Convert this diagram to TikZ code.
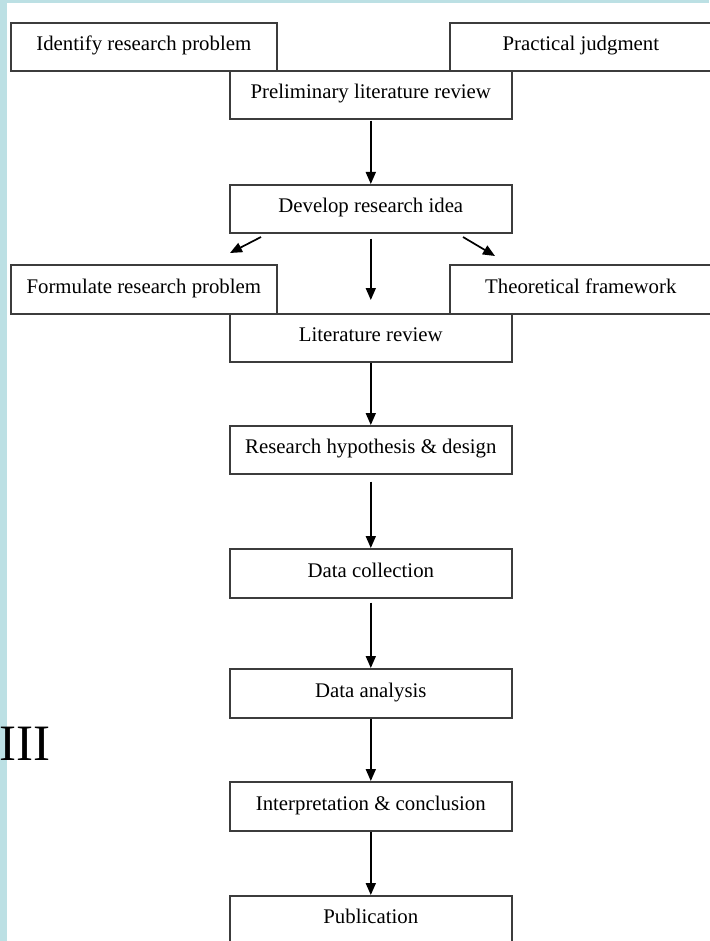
\documentclass[tikz,border=0pt]{standalone}
\usepackage{fontspec}
\setmainfont{Liberation Serif}
\usetikzlibrary{arrows.meta}
\definecolor{strip}{HTML}{BCE0E4}
\definecolor{boxline}{HTML}{3C3C3C}
\begin{document}
\begin{tikzpicture}[x=1pt,y=-1pt,
  stepbox/.style={draw=boxline, line width=1.6pt, inner sep=0pt,
    minimum height=48pt, text height=28pt, text depth=20pt,
    font=\fontsize{20.8}{24}\selectfont, anchor=north west, fill=white},
  arr/.style={-{Triangle[length=12pt,width=10pt]}, line width=1.7pt, black}]
\useasboundingbox (0,0) rectangle (709,941);
\fill[white] (0,0) rectangle (709,941);
\fill[strip] (0,0) rectangle (709,3);
\fill[strip] (0,0) rectangle (7,941);

\node[stepbox, minimum width=266pt] (identify) at (10,22) {Identify research problem};
\node[stepbox, minimum width=262pt] (practical) at (449,22) {Practical judgment};
\node[stepbox, minimum width=282pt] (prelim) at (229,70) {Preliminary literature review};
\node[stepbox, minimum width=282pt] (develop) at (229,184) {Develop research idea};
\node[stepbox, minimum width=266pt, minimum height=49pt] (formulate) at (10,264) {Formulate research problem};
\node[stepbox, minimum width=262pt, minimum height=49pt] (theory) at (449,264) {Theoretical framework};
\node[stepbox, minimum width=282pt] (litrev) at (229,313) {Literature review};
\node[stepbox, minimum width=282pt] (hyp) at (229,425) {Research hypothesis \& design};
\node[stepbox, minimum width=282pt, minimum height=49pt] (collect) at (229,548) {Data collection};
\node[stepbox, minimum width=282pt, minimum height=49pt] (analysis) at (229,668) {Data analysis};
\node[stepbox, minimum width=282pt, minimum height=49pt] (interp) at (229,781) {Interpretation \& conclusion};
\node[stepbox, minimum width=282pt] (pub) at (229,895) {Publication};

\coordinate (dlA) at (261,237);
\coordinate (dlB) at (230,253);
\coordinate (drA) at (463,237);
\coordinate (drB) at (495,256);

\draw[arr, shorten <=1pt] (prelim) -- (develop);
\draw[arr] (dlA) -- (dlB);
\draw[arr] (drA) -- (drB);
\draw[arr, shorten <=5pt, shorten >=13pt] (develop) -- (litrev);
\draw[arr] (litrev) -- (hyp);
\draw[arr, shorten <=7pt] (hyp) -- (collect);
\draw[arr, shorten <=4pt] (collect) -- (analysis);
\draw[arr] (analysis) -- (interp);
\draw[arr] (interp) -- (pub);

\node[anchor=base west, inner sep=0pt, font=\fontsize{51}{60}\selectfont] (roman) at (-1,760) {III};
\end{tikzpicture}
\end{document}
